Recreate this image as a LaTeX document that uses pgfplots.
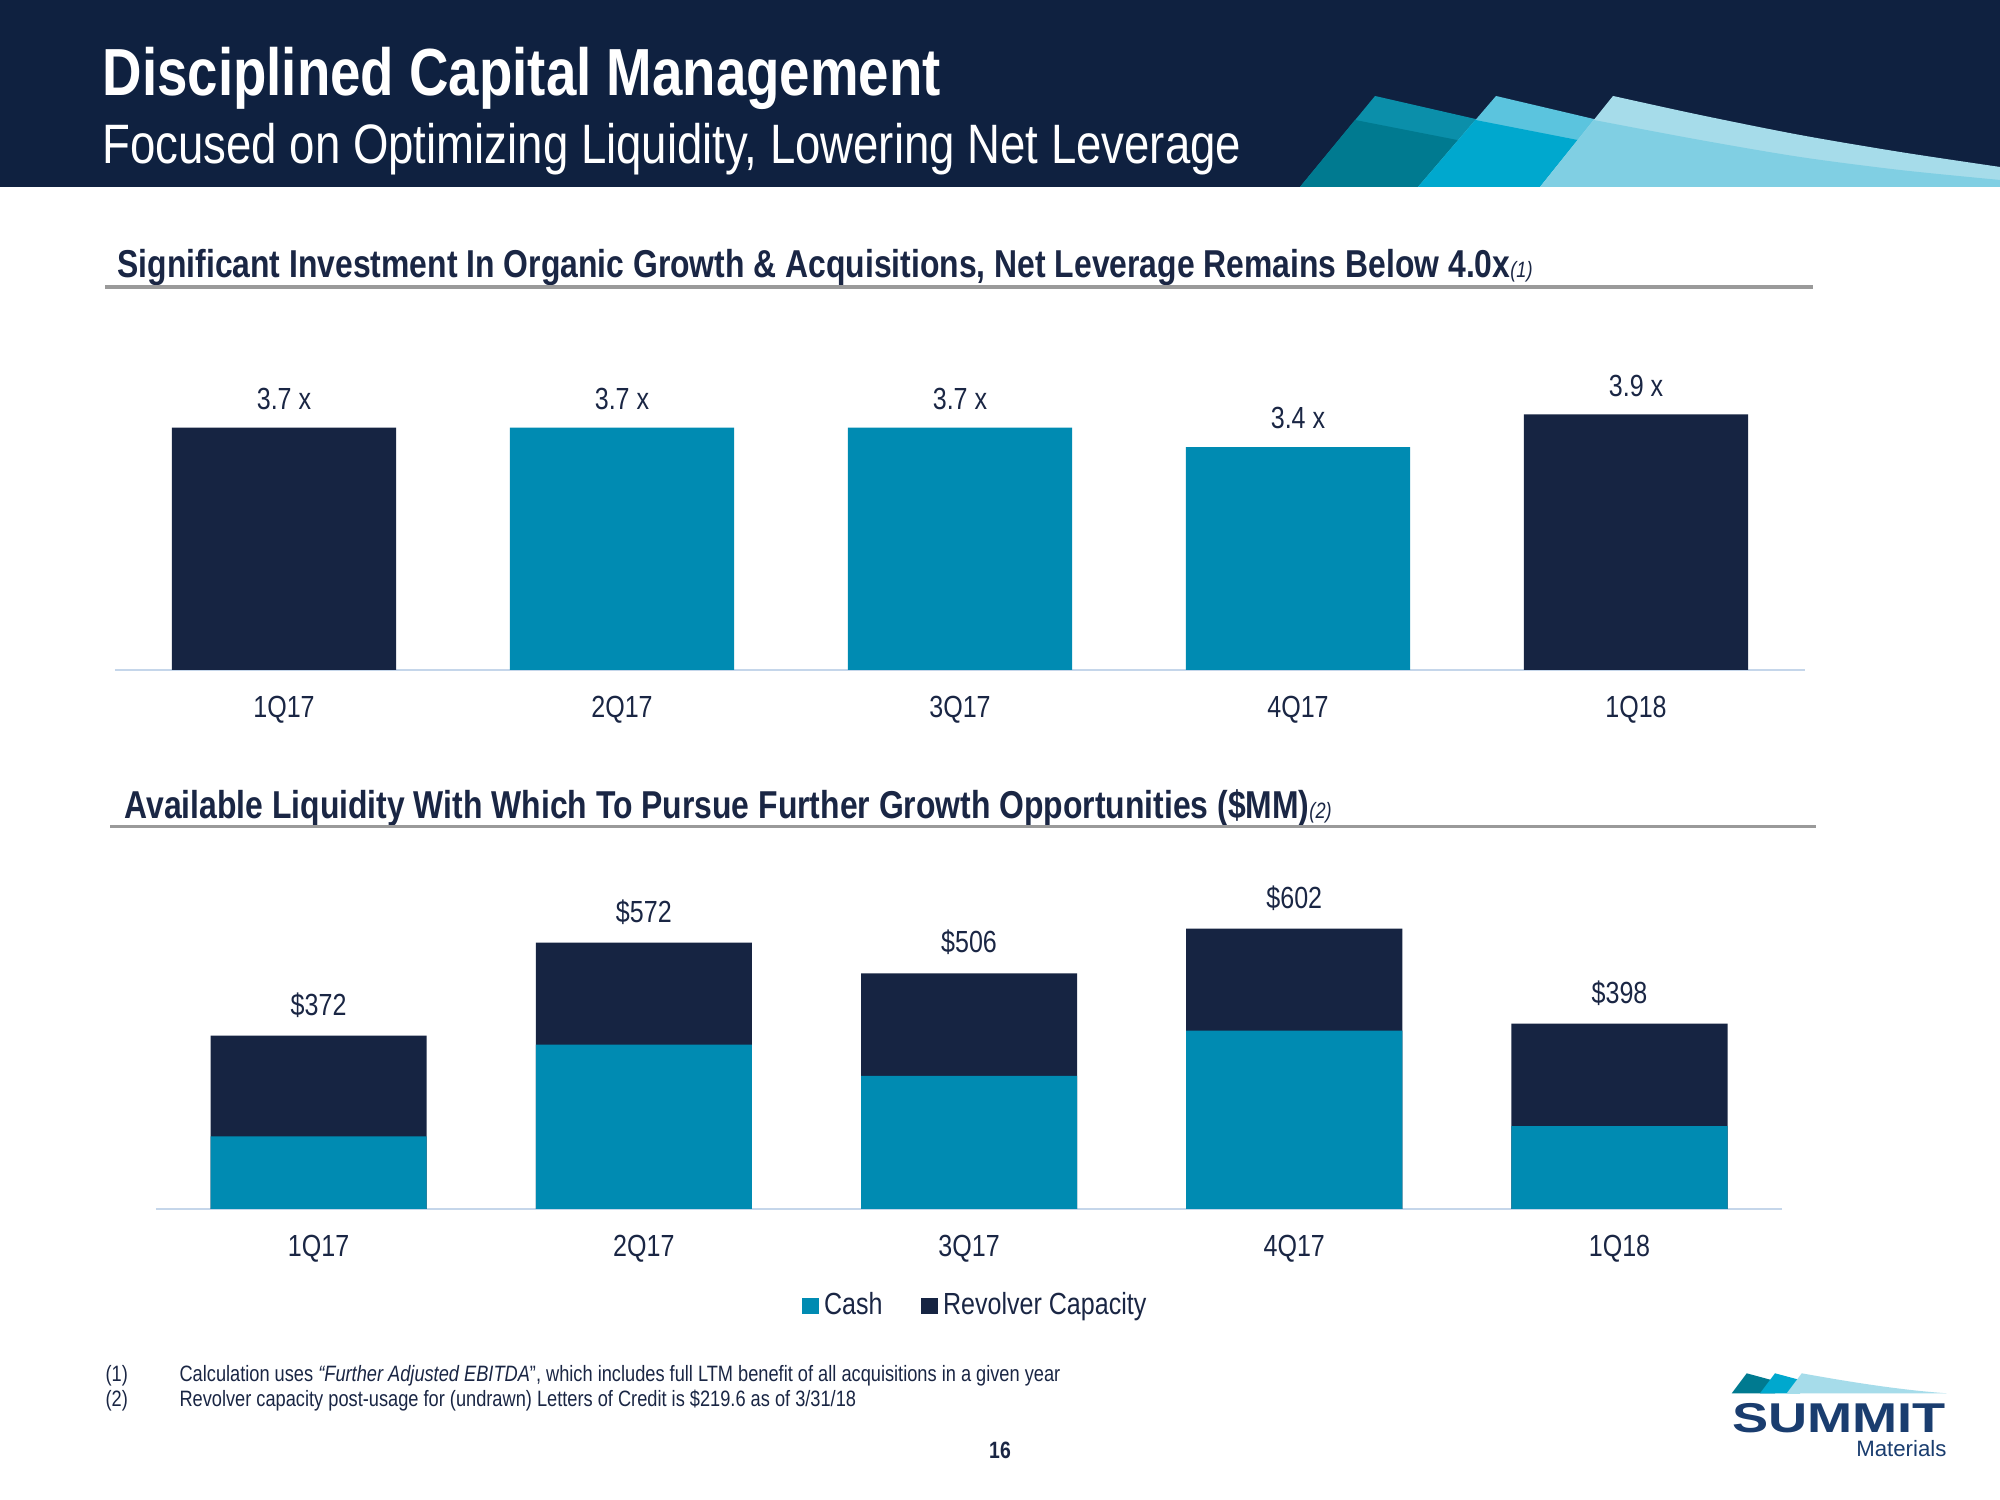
\documentclass[border=0pt]{standalone}
\usepackage{pgfplots}
\usepackage{pgfplotstable}
\pgfplotsset{compat=1.18}
\usepackage{fontspec}
\setmainfont{Liberation Sans}[FakeStretch=0.82]
\newfontfamily\logofont{Liberation Sans}[FakeStretch=1.3]
\newfontfamily\matfont{Liberation Sans}
\definecolor{hdrnavy}{HTML}{0F2140}
\definecolor{barnavy}{HTML}{162442}
\definecolor{barteal}{HTML}{008BB2}
\definecolor{txtnavy}{HTML}{1A2644}
\definecolor{axblue}{HTML}{C5D6EA}
\definecolor{rulegray}{HTML}{9A9A9A}
\definecolor{logonavy}{HTML}{1A3D6F}
\definecolor{aLight}{HTML}{0B8FAA}
\definecolor{aDark}{HTML}{007A90}
\definecolor{bLight}{HTML}{5BC4DE}
\definecolor{bDark}{HTML}{00A8CE}
\definecolor{cLight}{HTML}{A6DCEA}
\definecolor{cDark}{HTML}{80CFE3}

% liquidity: cash + revolver capacity = total
\pgfplotstableread{
x cash rev total
0 156 216 372
1 353 219 572
2 286 220 506
3 383 219 602
4 178 220 398
}\liq

\begin{document}
\begin{tikzpicture}
\begin{scope}[x=0.36pt, y=-0.36pt, shift={(0pt,540pt)}]
\path[use as bounding box, fill=white] (0,0) rectangle (2000,1500);
% header band
\fill[hdrnavy] (0,0) rectangle (2000,187);
\fill[aLight] (1300,187) -- (1375,96) -- (1500,124.6) -- (1500,187) -- cycle;
\fill[aDark] (1300,187) -- (1355,120) -- (1500,148.4) -- (1500,187) -- cycle;
\fill[bLight] (1418,187) -- (1496,96) -- (1620,125.2) -- (1620,187) -- cycle;
\fill[bDark] (1418,187) -- (1475.4,120) -- (1620,148.3) -- (1620,187) -- cycle;
\fill[cLight] (1540,187) -- plot[smooth] coordinates {(1613,96) (1700,115) (1800,135) (1900,152) (2000,167)} -- (2000,187) -- cycle;
\fill[cDark] (1540,187) -- plot[smooth] coordinates {(1593.7,120) (1700,140) (1800,157) (1900,170) (2000,180)} -- (2000,187) -- cycle;
\node[anchor=base west, inner sep=0, text=white, font=\fontsize{24}{28}\selectfont\bfseries] at (102,96) {Disciplined Capital Management};
\node[anchor=base west, inner sep=0, text=white, font=\fontsize{20}{24}\selectfont] at (102,164) {Focused on Optimizing Liquidity, Lowering Net Leverage};

% section headings
\node[anchor=base west, inner sep=0, text=txtnavy, font=\fontsize{14}{16}\selectfont\bfseries] at (117,278) {Significant Investment In Organic Growth \& Acquisitions, Net Leverage Remains Below 4.0x{\mdseries\itshape\fontsize{8}{9}\selectfont(1)}};
\draw[rulegray, line width=1.1pt] (105,287) -- (1813,287);
\node[anchor=base west, inner sep=0, text=txtnavy, font=\fontsize{14}{16}\selectfont\bfseries] at (124,819) {Available Liquidity With Which To Pursue Further Growth Opportunities (\$MM){\mdseries\itshape\fontsize{8}{9}\selectfont(2)}};
\draw[rulegray, line width=1.1pt] (110,826.5) -- (1816,826.5);

% footnotes
\node[anchor=base west, inner sep=0, text=txtnavy, font=\fontsize{8}{10}\selectfont] at (105,1382) {(1)};
\node[anchor=base west, inner sep=0, text=txtnavy, font=\fontsize{8}{10}\selectfont] at (179,1382) {Calculation uses \textit{“Further Adjusted EBITDA}”, which includes full LTM benefit of all acquisitions in a given year};
\node[anchor=base west, inner sep=0, text=txtnavy, font=\fontsize{8}{10}\selectfont] at (105,1407) {(2)};
\node[anchor=base west, inner sep=0, text=txtnavy, font=\fontsize{8}{10}\selectfont] at (179,1407) {Revolver capacity post-usage for (undrawn) Letters of Credit is \$219.6 as of 3/31/18};
\node[inner sep=0, text=txtnavy, font=\fontsize{8.5}{10}\selectfont\bfseries] at (1000,1450) {16};

% logo
\fill[aDark] (1731.7,1393.3) -- (1746.7,1373.3) -- (1775,1381) -- (1775,1393.3) -- cycle;
\fill[bDark] (1760,1393.3) -- (1775,1373.3) -- (1800,1380) -- (1800,1393.3) -- cycle;
\fill[cLight] (1786.7,1393.3) -- (1801.7,1373.3) .. controls (1850,1382) and (1900,1390) .. (1946.7,1393.3) -- cycle;
\node[anchor=base west, inner sep=0, text=logonavy, font=\logofont\bfseries\fontsize{15}{16}\selectfont] at (1731.7,1433) {SUMMIT};
\node[anchor=base east, inner sep=0, text=logonavy, font=\matfont\fontsize{8}{9}\selectfont] at (1947,1456.7) {Materials};
\end{scope}

% chart 1
\begin{axis}[at={(41.4pt,298.8pt)}, anchor=south west, scale only axis,
  width=608.4pt, height=108.5pt,
  xmin=-0.5, xmax=4.5, ymin=0, ymax=4.6,
  ybar, bar width=80.8pt, bar shift=0pt,
  axis y line=none, axis x line*=bottom,
  x axis line style={axblue, line width=0.8pt, -},
  xtick={0,...,4}, xticklabels={1Q17,2Q17,3Q17,4Q17,1Q18},
  major tick length=0pt,
  xticklabel style={font=\fontsize{11}{13}\selectfont, text=txtnavy, yshift=-6pt},
  nodes near coords={\pgfmathprintnumber[fixed,fixed zerofill,precision=1,assume math mode=true]{\pgfplotspointmeta}~x},
  every node near coord/.append style={font=\fontsize{11}{13}\selectfont, text=txtnavy, yshift=3pt},
  clip=false]
\addplot[fill=barnavy, draw=none] coordinates {(0,3.7) (4,3.9)};
\addplot[fill=barteal, draw=none] coordinates {(1,3.7) (2,3.7) (3,3.4)};
\end{axis}

% chart 2: total bar (navy) with cash bar (teal) drawn over its lower part
\begin{axis}[at={(56.16pt,104.76pt)}, anchor=south west, scale only axis,
  width=585.4pt, height=117.4pt,
  xmin=-0.5, xmax=4.5, ymin=0, ymax=700,
  ybar, bar width=77.8pt, bar shift=0pt,
  axis y line=none, axis x line*=bottom,
  x axis line style={axblue, line width=0.8pt, -},
  xtick={0,...,4}, xticklabels={1Q17,2Q17,3Q17,4Q17,1Q18},
  major tick length=0pt,
  xticklabel style={font=\fontsize{11}{13}\selectfont, text=txtnavy, yshift=-6pt},
  legend style={at={(0.505,-0.2975)}, anchor=center, draw=none, fill=none,
    legend columns=2, font=\fontsize{11}{13}\selectfont, text=txtnavy,
    nodes={inner sep=2pt},
    /tikz/every even column/.append style={column sep=12pt}},
  mylegend/.style={legend image code/.code={\fill[##1] (-1pt,-2.9pt) rectangle (4.8pt,2.9pt);}},
  clip=false]
\addlegendimage{mylegend, fill=barteal, draw=none}
\addlegendentry{Cash}
\addlegendimage{mylegend, fill=barnavy, draw=none}
\addlegendentry{Revolver Capacity}
\addplot[fill=barnavy, draw=none, forget plot, point meta=explicit,
  nodes near coords={\$\pgfmathprintnumber[assume math mode=true]{\pgfplotspointmeta}},
  every node near coord/.append style={font=\fontsize{11}{13}\selectfont, text=txtnavy, yshift=3pt}]
  table[x=x, y=total, meta=total] {\liq};
\addplot[fill=barteal, draw=none, forget plot] table[x=x, y=cash] {\liq};
\end{axis}
\end{tikzpicture}
\end{document}
